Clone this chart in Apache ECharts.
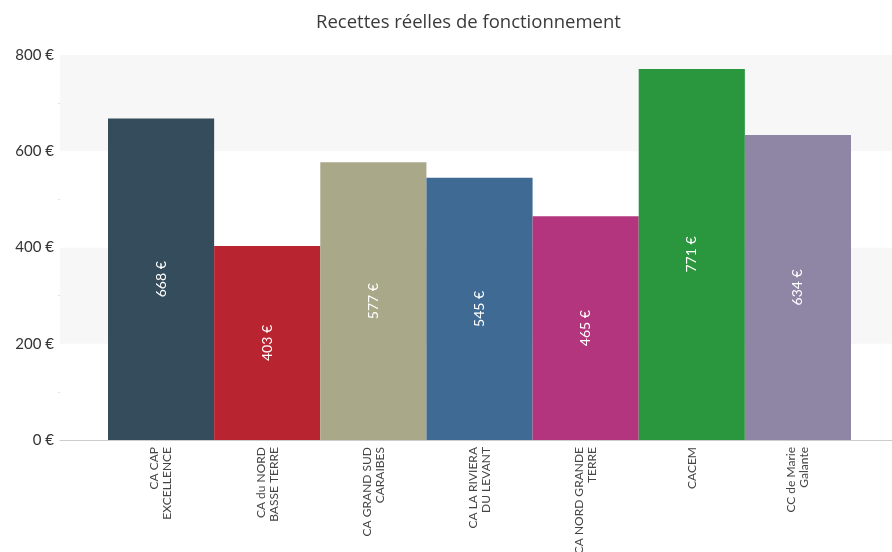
<!DOCTYPE html>
<html><head><meta charset="utf-8">
<script src="https://cdn.jsdelivr.net/npm/echarts@6/dist/echarts.min.js"></script>
<style>html,body{margin:0;padding:0;background:#fff}#c{width:892px;height:552px}</style>
</head><body><div id="c"></div>
<script>
const categories = ["CA CAP\nEXCELLENCE","CA du NORD\nBASSE TERRE","CA GRAND SUD\nCARAIBES","CA LA RIVIERA\nDU LEVANT","CA NORD GRANDE\nTERRE","CACEM","CC de Marie\nGalante"];
const values = [668, 403, 577, 545, 465, 771, 634];
const colors = ["#344c5b","#b8242f","#a9a98a","#3f6a94","#b3357e","#2a963e","#8f85a5"];
const yTicks = [0, 200, 400, 600, 800];
const title = "Recettes réelles de fonctionnement";
const FONT = "Lato";
const chart = echarts.init(document.getElementById('c'));
chart.setOption({
  animation: false,
  textStyle: {fontFamily: FONT},
  title: {text: title, left: 311, top: 8, textStyle: {fontFamily: 'Open Sans', fontSize: 18.5, fontWeight: 'normal', color: '#3a3a3a'}},
  grid: [
    {left: 60, right: 0, top: 55, bottom: 112, outerBoundsMode: 'none', containLabel: false},
    {left: 108, right: 41, top: 55, bottom: 112, outerBoundsMode: 'none', containLabel: false}
  ],
  xAxis: [
    {gridIndex: 0, type: 'category', data: [''], axisLine: {lineStyle: {color: '#cccccc'}}, axisTick: {show: false}, axisLabel: {show: false}},
    {gridIndex: 1, type: 'category', data: categories, axisLine: {show: false}, axisTick: {show: false},
     axisLabel: {rotate: 90, interval: 0, fontFamily: FONT, fontSize: 12, color: '#444', lineHeight: 13, margin: 7, align: 'right', verticalAlign: 'middle'}}
  ],
  yAxis: [
    {gridIndex: 0, type: 'value', min: yTicks[0], max: yTicks[yTicks.length-1], interval: 200,
     axisLine: {show: false}, axisTick: {show: false}, splitLine: {show: false},
     minorTick: {show: true, splitNumber: 2, length: 2, lineStyle: {color: '#e4e4e4'}},
     splitArea: {show: true, areaStyle: {color: ['#ffffff', '#f7f7f7']}},
     axisLabel: {formatter: v => v + ' €', fontFamily: FONT, fontSize: 15, color: '#333', margin: 6}},
    {gridIndex: 1, type: 'value', min: 0, max: 800, show: false}
  ],
  series: [{
    type: 'bar', xAxisIndex: 1, yAxisIndex: 1, barCategoryGap: 0,
    data: values.map((v, i) => ({value: v, itemStyle: {color: colors[i]}})),
    label: {show: true, position: 'inside', rotate: 90, formatter: p => p.value + ' €', color: '#fff', fontFamily: FONT, fontSize: 14}
  }]
});
</script></body></html>
